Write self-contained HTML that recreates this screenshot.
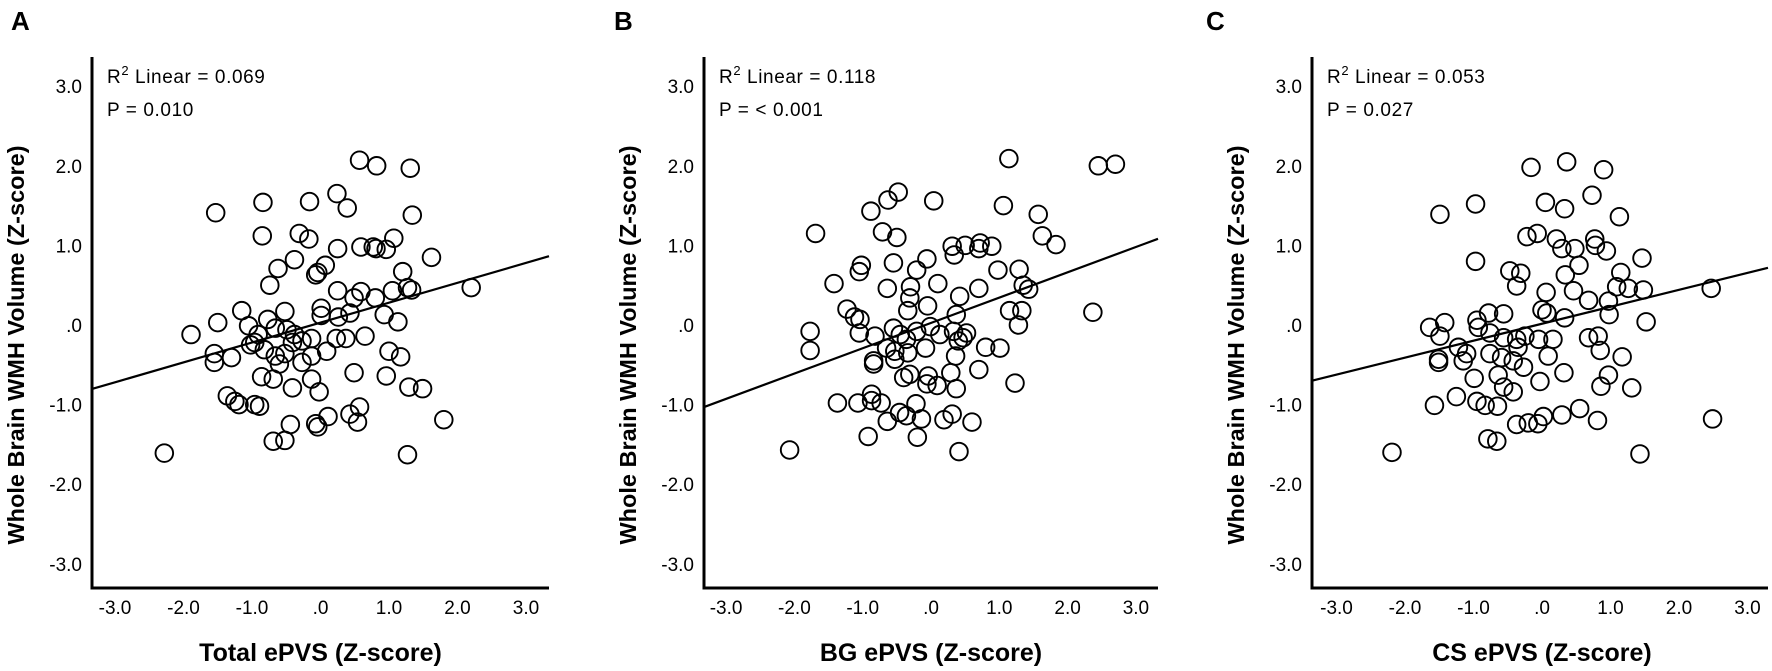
<!DOCTYPE html>
<html><head><meta charset="utf-8"><style>
html,body{margin:0;padding:0;background:#fff;}
svg{display:block;font-family:"Liberation Sans",Arial,sans-serif;}
</style></head><body>
<svg id="fig" width="1772" height="671" viewBox="0 0 1772 671" xmlns="http://www.w3.org/2000/svg"></svg>
<script>
const xTicks = [-3, -2, -1, 0, 1, 2, 3];
const yTicks = [3, 2, 1, 0, -1, -2, -3];
const tickLabels = ["-3.0", "-2.0", "-1.0", ".0", "1.0", "2.0", "3.0"];
const panelLetters = ["A", "B", "C"];
const xTitles = ["Total ePVS (Z-score)", "BG ePVS (Z-score)", "CS ePVS (Z-score)"];
const r2Values = ["0.069", "0.118", "0.053"];
const pValues = ["0.010", "< 0.001", "0.027"];
const fitSlopes = [0.25, 0.318, 0.213];
const fitIntercepts = [0.03, 0.026, 0.016];

const aX = [0.57,0.82,1.31,0.24,0.39,-1.53,-0.84,-0.16,1.34,-0.85,-0.31,-0.17,1.07,0.25,0.59,0.77,0.81,0.96,1.62,-0.38,-0.62,-0.04,0.07,-0.07,1.2,-0.74,0.25,0.59,0.49,0.8,1.05,1.27,1.33,2.2,-1.15,-1.5,-0.52,-0.77,0.01,0.01,0.26,0.43,0.93,1.13,-1.89,-1.05,-0.91,-0.66,-0.49,-0.38,-0.27,-0.13,-0.96,-0.82,-1.02,0.23,0.37,0.65,-1.55,-1.55,-1.3,-0.66,-0.52,-0.41,-0.13,0.09,1.0,1.17,-0.6,-0.27,-0.86,-0.69,0.49,0.96,-0.41,-0.13,-0.02,1.29,1.49,-1.36,-1.25,-1.19,-0.96,-0.89,0.57,0.43,0.54,0.11,-0.07,-0.04,-0.44,-0.69,-0.52,1.8,-2.28,1.27];
const aY = [2.07,2.0,1.97,1.65,1.47,1.41,1.54,1.55,1.38,1.12,1.15,1.08,1.09,0.96,0.98,0.98,0.96,0.95,0.85,0.82,0.71,0.66,0.75,0.63,0.67,0.5,0.43,0.42,0.34,0.34,0.43,0.47,0.44,0.47,0.18,0.03,0.17,0.07,0.21,0.12,0.1,0.15,0.13,0.04,-0.12,-0.01,-0.12,-0.04,-0.06,-0.12,-0.2,-0.17,-0.22,-0.31,-0.25,-0.17,-0.17,-0.14,-0.36,-0.47,-0.41,-0.39,-0.36,-0.22,-0.39,-0.33,-0.33,-0.4,-0.49,-0.47,-0.65,-0.68,-0.6,-0.64,-0.79,-0.68,-0.84,-0.78,-0.8,-0.89,-0.96,-1.0,-1.0,-1.02,-1.03,-1.12,-1.22,-1.15,-1.24,-1.28,-1.25,-1.46,-1.45,-1.19,-1.61,-1.63];

const bX = [1.14,2.45,2.70,-0.48,-0.63,0.04,-0.88,1.06,1.57,-1.69,-0.71,-0.50,1.63,1.83,0.31,0.50,0.72,0.89,0.34,0.70,-0.06,-0.55,-1.02,-1.05,-0.21,0.98,1.29,-1.42,-0.64,-0.30,0.10,0.70,1.35,1.43,0.42,-0.31,-1.23,-0.05,-1.12,-1.04,-0.34,0.37,1.15,1.33,2.37,1.28,-1.77,-1.77,-1.05,-0.82,-0.55,-0.45,-0.36,-0.21,-0.01,0.13,0.33,0.52,0.40,0.47,0.80,1.01,-0.65,-0.53,-0.34,-0.08,-0.84,-0.84,-0.53,0.36,-0.40,-0.31,-0.04,-0.06,0.09,0.29,0.70,0.37,1.23,-1.37,-1.07,-0.87,-0.87,-0.73,-0.46,-0.36,-0.22,-0.14,-0.64,0.19,0.31,0.60,-0.92,-0.20,-2.07,0.41];
const bY = [2.09,2.0,2.02,1.67,1.57,1.56,1.43,1.5,1.39,1.15,1.17,1.10,1.12,1.01,0.99,1.0,1.03,0.99,0.88,0.96,0.83,0.78,0.75,0.67,0.69,0.69,0.70,0.52,0.46,0.48,0.52,0.46,0.5,0.45,0.36,0.34,0.2,0.24,0.10,0.07,0.18,0.13,0.18,0.18,0.16,0.0,-0.08,-0.32,-0.1,-0.14,-0.04,-0.12,-0.18,-0.08,-0.02,-0.12,-0.08,-0.1,-0.2,-0.16,-0.28,-0.29,-0.29,-0.33,-0.35,-0.29,-0.45,-0.49,-0.43,-0.39,-0.66,-0.62,-0.64,-0.74,-0.76,-0.6,-0.56,-0.8,-0.73,-0.98,-0.98,-0.87,-0.95,-0.98,-1.1,-1.14,-0.99,-1.18,-1.21,-1.19,-1.12,-1.22,-1.4,-1.41,-1.57,-1.59];

const cX = [-0.16,0.36,0.90,0.73,0.05,0.33,1.13,-1.49,-0.97,-0.22,-0.07,0.21,0.29,0.48,0.77,0.78,0.94,0.54,-0.97,-0.47,-0.31,-0.37,0.34,1.46,1.15,1.09,1.26,1.48,2.47,0.06,0.46,0.68,0.97,0.0,0.07,0.33,0.98,1.52,-1.64,-1.42,-1.49,-0.95,-0.78,-0.56,-0.93,-0.76,-0.56,-0.37,-0.25,-0.05,0.16,-1.22,-1.1,-1.15,-1.51,-1.51,-0.76,-0.59,-0.42,-0.27,-0.35,0.09,0.68,0.82,0.85,1.17,-0.99,-0.64,-0.56,-0.42,-0.03,0.32,0.86,0.97,1.31,-1.57,-1.25,-0.95,-0.83,-0.65,-0.37,-0.2,-0.06,0.02,0.29,0.55,0.81,2.49,-0.79,-0.66,-2.19,1.43];
const cY = [1.98,2.05,1.95,1.63,1.54,1.46,1.36,1.39,1.52,1.11,1.15,1.08,0.96,0.96,1.08,1.0,0.93,0.75,0.80,0.68,0.65,0.49,0.63,0.84,0.66,0.48,0.46,0.44,0.46,0.41,0.43,0.31,0.30,0.19,0.15,0.09,0.13,0.04,-0.03,0.03,-0.14,0.06,0.15,0.14,-0.03,-0.1,-0.16,-0.18,-0.14,-0.18,-0.18,-0.28,-0.36,-0.45,-0.43,-0.47,-0.36,-0.41,-0.45,-0.53,-0.28,-0.39,-0.16,-0.14,-0.32,-0.40,-0.67,-0.63,-0.78,-0.84,-0.71,-0.60,-0.77,-0.63,-0.79,-1.01,-0.90,-0.96,-1.01,-1.02,-1.25,-1.23,-1.24,-1.15,-1.13,-1.05,-1.2,-1.18,-1.43,-1.46,-1.60,-1.62];

const seriesX = [aX, bX, cX];
const seriesY = [aY, bY, cY];

// layout (pixels)
const axisLeft = [92, 704, 1312];
const xZero = [320.5, 931, 1542];
const xUnit = [68.5, 68.3, 68.5];
const axisRight = [549, 1158, 1768];
const yZero = 325, yUnit = 79.6, axisTop = 57, axisBottom = 588;
const letterX = [11, 614, 1206];

const svg = document.getElementById('fig');
const NS = 'http://www.w3.org/2000/svg';
function mk(tag, attrs, parent) {
  const e = document.createElementNS(NS, tag);
  for (const k in attrs) e.setAttribute(k, attrs[k]);
  (parent || svg).appendChild(e);
  return e;
}

for (let p = 0; p < 3; p++) {
  const sx = v => xZero[p] + v * xUnit[p];
  const sy = v => yZero - v * yUnit;
  const g = mk('g', {});
  
  

  const lt = mk('text', {x: letterX[p], y: 30, 'font-size': 26, 'font-weight': 'bold'}, g);
  lt.textContent = panelLetters[p];
  
  

  const pts = mk('g', {fill: 'none', stroke: '#000', 'stroke-width': 1.9}, g);
  
  
  const xs = seriesX[p], ys = seriesY[p];
  for (let i = 0; i < xs.length; i++) {
    const c = mk('circle', {cx: sx(xs[i]), cy: sy(ys[i]), r: 8.8}, pts);
    
    
  }

  const xa = (axisLeft[p] - xZero[p]) / xUnit[p], xb = (axisRight[p] - xZero[p]) / xUnit[p];
  const fl = mk('line', {x1: sx(xa), y1: sy(fitIntercepts[p] + fitSlopes[p] * xa), x2: sx(xb), y2: sy(fitIntercepts[p] + fitSlopes[p] * xb), stroke: '#000', 'stroke-width': 2.2}, g);
  
  

  const ya = mk('line', {x1: axisLeft[p], y1: axisTop, x2: axisLeft[p], y2: axisBottom + 1.5, stroke: '#000', 'stroke-width': 3}, g);
  
  
  const xaL = mk('line', {x1: axisLeft[p] - 1.5, y1: axisBottom, x2: axisRight[p], y2: axisBottom, stroke: '#000', 'stroke-width': 3}, g);
  
  

  for (let i = 0; i < xTicks.length; i++) {
    const t = mk('text', {x: sx(xTicks[i]), y: 614, 'font-size': 19, 'text-anchor': 'middle'}, g);
    t.textContent = tickLabels[i];
    
    
  }
  for (let i = 0; i < yTicks.length; i++) {
    const t = mk('text', {x: axisLeft[p] - 10, y: sy(yTicks[i]) + 7, 'font-size': 19, 'text-anchor': 'end'}, g);
    t.textContent = tickLabels[6 - i];
    
    
  }

  const xt = mk('text', {x: xZero[p], y: 661, 'font-size': 25, 'font-weight': 'bold', 'text-anchor': 'middle'}, g);
  xt.textContent = xTitles[p];
  
  

  const yt = mk('text', {x: 0, y: 0, 'font-size': 23.5, 'font-weight': 'bold', 'text-anchor': 'middle', transform: 'translate(' + (axisLeft[p] - 68) + ',' + 345 + ') rotate(-90)'}, g);
  yt.textContent = 'Whole Brain WMH Volume (Z-score)';
  
  

  const r2 = mk('text', {x: axisLeft[p] + 15, y: 83, 'font-size': 19, 'letter-spacing': '0.6'}, g);
  r2.innerHTML = 'R<tspan dy="-8" font-size="13">2</tspan><tspan dy="8"> Linear = ' + r2Values[p] + '</tspan>';
  
  
  const pv = mk('text', {x: axisLeft[p] + 15, y: 116, 'font-size': 19, 'letter-spacing': '0.6'}, g);
  pv.textContent = 'P = ' + pValues[p];
  
  
}
</script>
</body></html>
